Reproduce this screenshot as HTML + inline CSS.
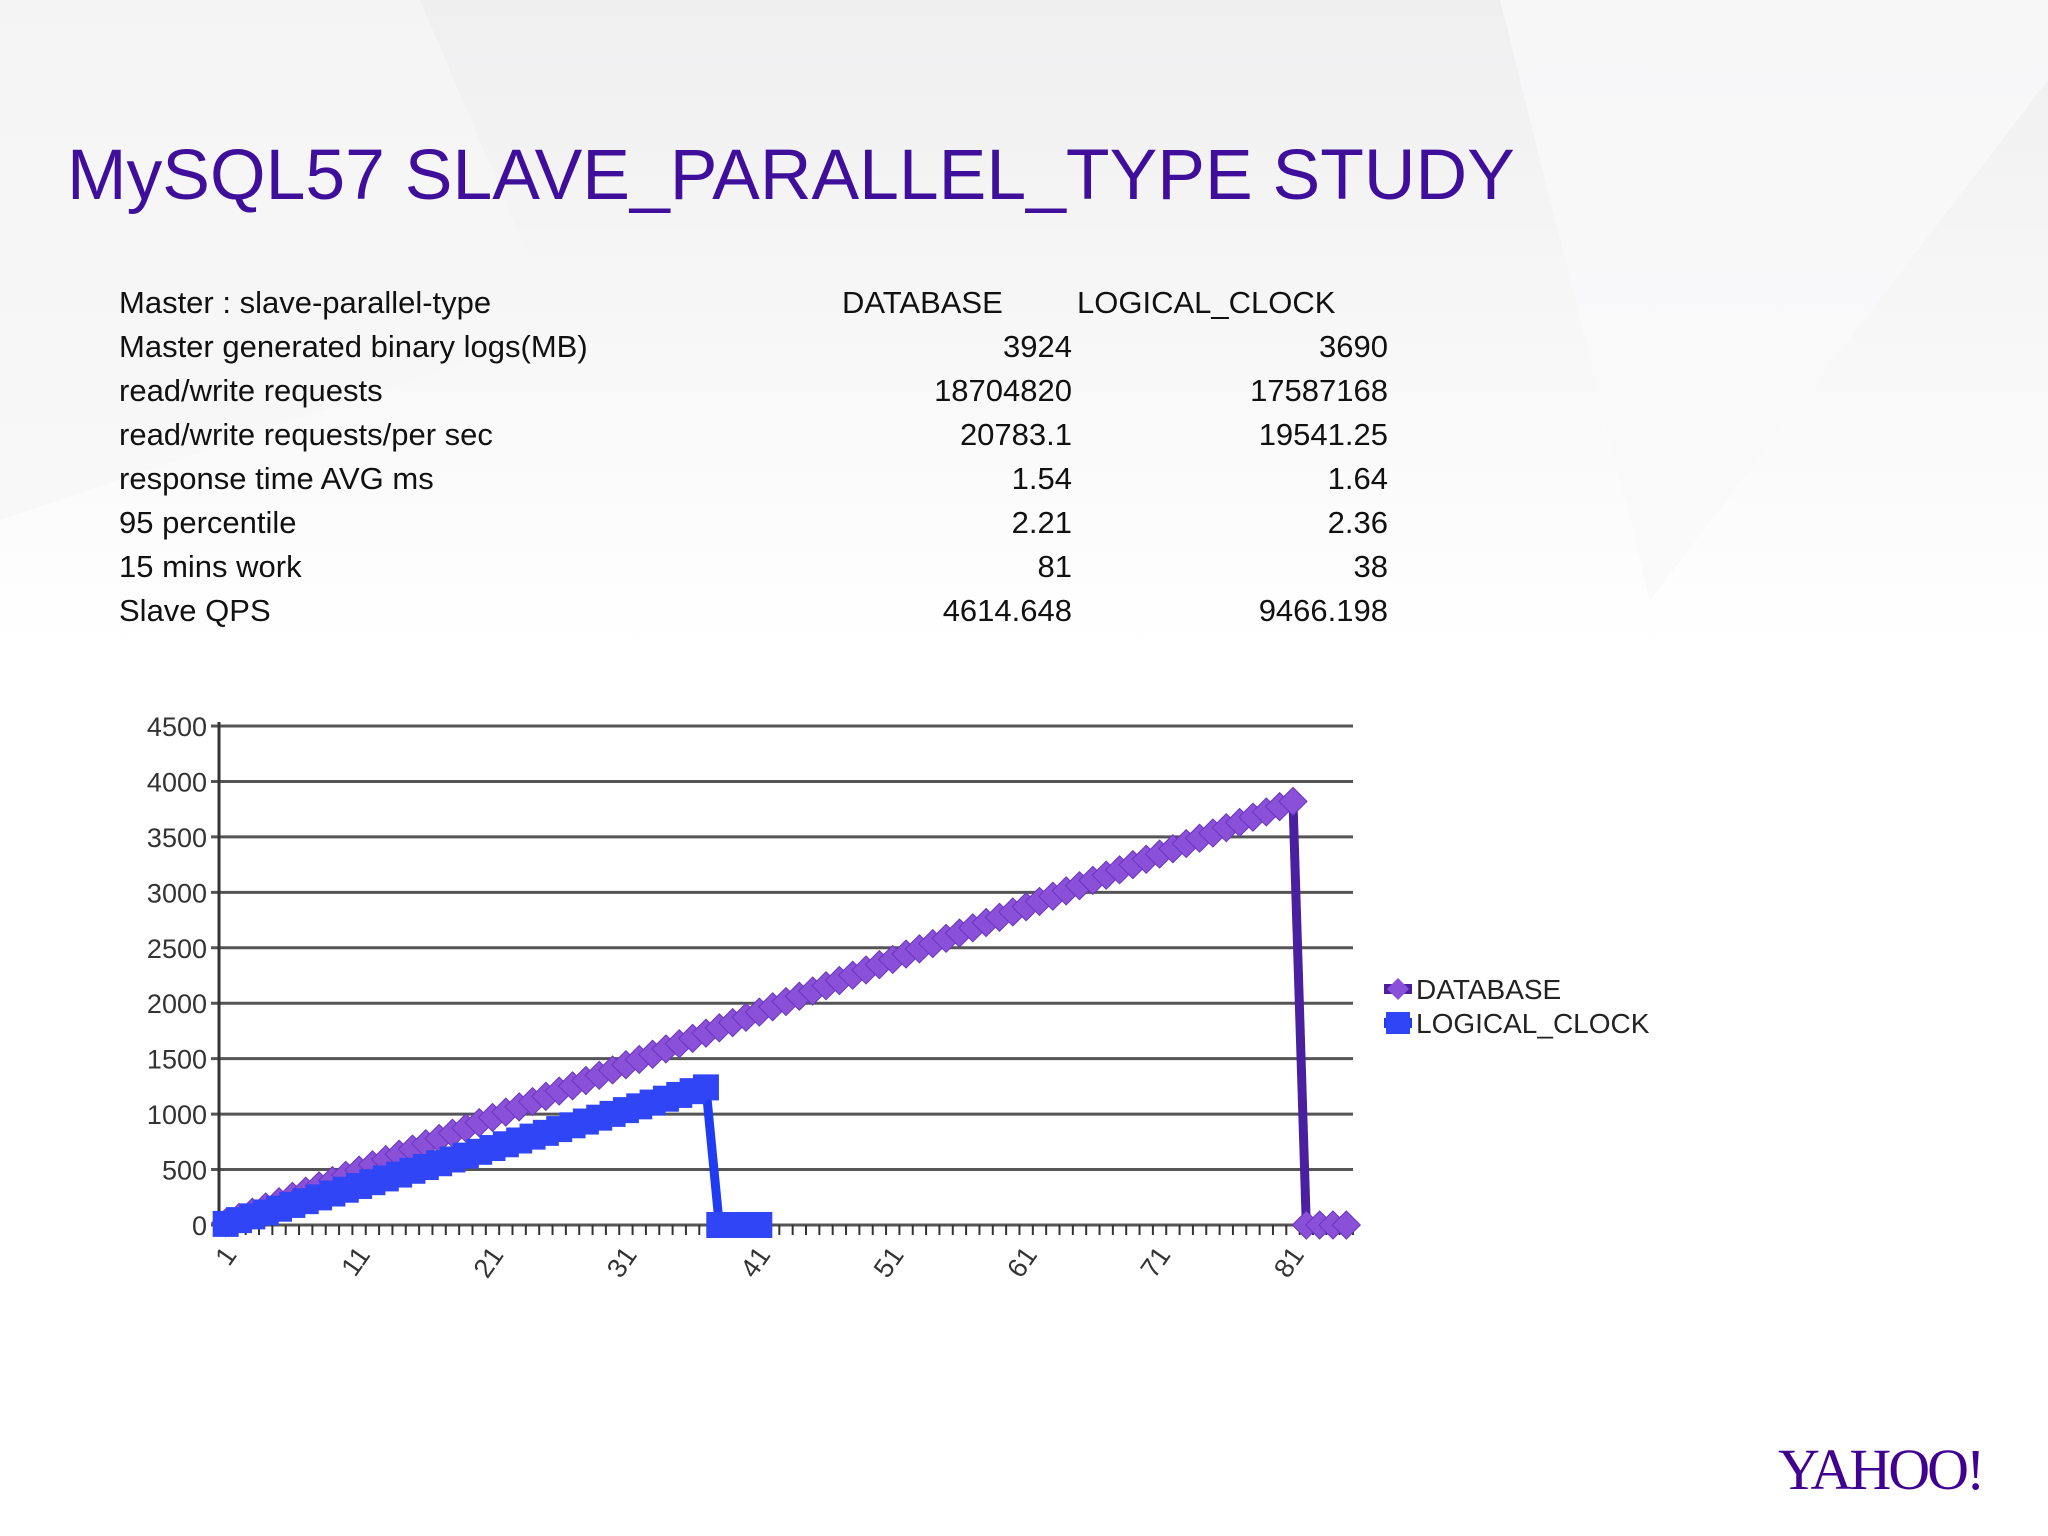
<!DOCTYPE html>
<html><head><meta charset="utf-8"><style>
html,body{margin:0;padding:0}
body{width:2048px;height:1536px;position:relative;overflow:hidden;background:#fff;font-family:"Liberation Sans",sans-serif}
.bg{position:absolute;left:0;top:0}
h1{position:absolute;left:67px;top:134px;margin:0;font-weight:normal;font-size:71.5px;color:#3f0f9c;white-space:nowrap}
.row{position:absolute;left:119px;font-size:31px;color:#111;height:40px;width:1300px}
.row span{position:absolute;top:0;white-space:nowrap}
.c1{right:228px;text-align:right}
.c2{right:-88px;text-align:right}
#chart{position:absolute;left:0;top:0}
.logo{position:absolute;left:1778px;top:1436px;font-family:"Liberation Serif",serif;font-size:58px;color:#400090;letter-spacing:-3px}
</style></head><body>
<svg class="bg" width="2048" height="1536">
<defs><linearGradient id="g" x1="0" y1="0" x2="0" y2="1"><stop offset="0" stop-color="#efeff0"/><stop offset="1" stop-color="#fff"/></linearGradient></defs>
<rect width="2048" height="650" fill="url(#g)"/>
<polygon points="0,0 420,0 560,330 0,520" fill="#f6f6f7" opacity="0.7"/>
<polygon points="1500,0 2048,0 2048,80 1650,600" fill="#f9f9fa" opacity="0.8"/>
</svg>
<h1>MySQL57 SLAVE_PARALLEL_TYPE STUDY</h1>
<div>
<div class="row" style="top:285px"><span>Master : slave-parallel-type</span><span style="left:723px">DATABASE</span><span style="left:958px">LOGICAL_CLOCK</span></div>
<div class="row" style="top:329px"><span>Master generated binary logs(MB)</span><span class="c1" style="right:347px">3924</span><span class="c2" style="right:31px">3690</span></div>
<div class="row" style="top:373px"><span>read/write requests</span><span class="c1" style="right:347px">18704820</span><span class="c2" style="right:31px">17587168</span></div>
<div class="row" style="top:417px"><span>read/write requests/per sec</span><span class="c1" style="right:347px">20783.1</span><span class="c2" style="right:31px">19541.25</span></div>
<div class="row" style="top:461px"><span>response time AVG ms</span><span class="c1" style="right:347px">1.54</span><span class="c2" style="right:31px">1.64</span></div>
<div class="row" style="top:505px"><span>95 percentile</span><span class="c1" style="right:347px">2.21</span><span class="c2" style="right:31px">2.36</span></div>
<div class="row" style="top:549px"><span>15 mins work</span><span class="c1" style="right:347px">81</span><span class="c2" style="right:31px">38</span></div>
<div class="row" style="top:593px"><span>Slave QPS</span><span class="c1" style="right:347px">4614.648</span><span class="c2" style="right:31px">9466.198</span></div>
</div>
<svg id="chart" width="2048" height="1536"></svg>
<div class="logo">YAHOO!</div>
<script>
const categoryCount = 85;
const yTicks = [0,500,1000,1500,2000,2500,3000,3500,4000,4500];
const xTickLabels = [1,11,21,31,41,51,61,71,81];
const databaseValues = [20,68,115,163,210,258,305,353,400,448,495,543,590,638,685,733,780,828,875,923,970,1018,1065,1113,1160,1208,1255,1303,1350,1398,1445,1493,1540,1588,1635,1683,1730,1778,1825,1873,1920,1968,2015,2063,2110,2158,2205,2253,2300,2348,2395,2443,2490,2538,2585,2633,2680,2728,2775,2823,2870,2918,2965,3013,3060,3108,3155,3203,3250,3298,3345,3393,3440,3488,3535,3583,3630,3678,3725,3773,3820,0,0,0,0];
const logicalValues = [10,44,78,113,147,181,215,249,284,318,352,386,420,455,489,523,557,591,626,660,694,728,762,797,831,865,899,933,968,1002,1036,1070,1104,1139,1173,1207,1241,0,0,0,0];
const seriesNames = ["DATABASE","LOGICAL_CLOCK"];

const svg = document.getElementById('chart');
const NS = 'http://www.w3.org/2000/svg';
const L = 219, R = 1353, T = 726, B = 1225, YMAX = 4500;
const step = (R - L) / categoryCount;
const x = i => L + (i - 0.5) * step;
const y = v => B - v / YMAX * (B - T);
function mk(tag, attrs){ const e = document.createElementNS(NS, tag); for (const k in attrs) e.setAttribute(k, attrs[k]); svg.appendChild(e); return e; }

yTicks.forEach(t => {
  const g = mk('line', {x1: L - 8, x2: R, y1: y(t), y2: y(t), stroke: '#555', 'stroke-width': 3});
  
  
  const tx = mk('text', {x: L - 12, y: y(t) + 10, 'text-anchor': 'end', 'font-size': 27, fill: '#333', 'font-family': 'Liberation Sans, sans-serif'});
  tx.textContent = t;
  
  
});
const ax = mk('line', {x1: L, x2: L, y1: T - 4, y2: B + 10, stroke: '#333', 'stroke-width': 3});


for (let i = 0; i <= categoryCount; i++) {
  const tk = mk('line', {x1: L + i * step, x2: L + i * step, y1: B, y2: B + 10, stroke: '#333', 'stroke-width': 2});
  
  
}
xTickLabels.forEach(c => {
  const tx = mk('text', {x: 0, y: 0, 'text-anchor': 'end', 'font-size': 27, fill: '#333', 'font-family': 'Liberation Sans, sans-serif',
    transform: `translate(${x(c) + 12},${B + 30}) rotate(-55)`});
  tx.textContent = c;
  
  
});

function series(vals, lineCol, fill, shape, name) {
  const pts = vals.map((v, i) => x(i + 1) + ',' + y(v)).join(' ');
  const pl = mk('polyline', {points: pts, fill: 'none', stroke: lineCol, 'stroke-width': 9, 'stroke-linejoin': 'round'});
  
  
  vals.forEach((v, i) => {
    const cx = x(i + 1), cy = y(v);
    let m;
    if (shape === 'diamond') m = mk('polygon', {points: `${cx},${cy-14} ${cx+14},${cy} ${cx},${cy+14} ${cx-14},${cy}`, fill: fill, stroke: '#6a35c0', 'stroke-width': 1});
    else m = mk('rect', {x: cx - 13, y: cy - 13, width: 26, height: 26, fill: fill});
    
    
  });
}
series(databaseValues, '#4a1fa0', '#8b50d8', 'diamond', 'database');
series(logicalValues, '#1f3cf2', '#2f45f6', 'square', 'logical-clock');

const lg = [['#4a1fa0', '#8b50d8', 'diamond'], ['#1f3cf2', '#2f45f6', 'square']];
seriesNames.forEach((n, k) => {
  const ly = 989 + k 
  * 34;
  const ln = mk('line', {x1: 1384, x2: 1412, y1: ly, y2: ly, stroke: lg[k][0], 'stroke-width': 10});
  
  
  let m;
  if (lg[k][2] === 'diamond') m = mk('polygon', {points: `1398,${ly-11} 1409,${ly} 1398,${ly+11} 1387,${ly}`, fill: lg[k][1]});
  else m = mk('rect', {x: 1386, y: ly - 11, width: 24, height: 22, fill: lg[k][1]});
  
  
  const t = mk('text', {x: 1416, y: ly + 10, 'font-size': 28, fill: '#222', 'font-family': 'Liberation Sans, sans-serif'});
  t.textContent = n;
  
  
});
</script>
</body></html>
